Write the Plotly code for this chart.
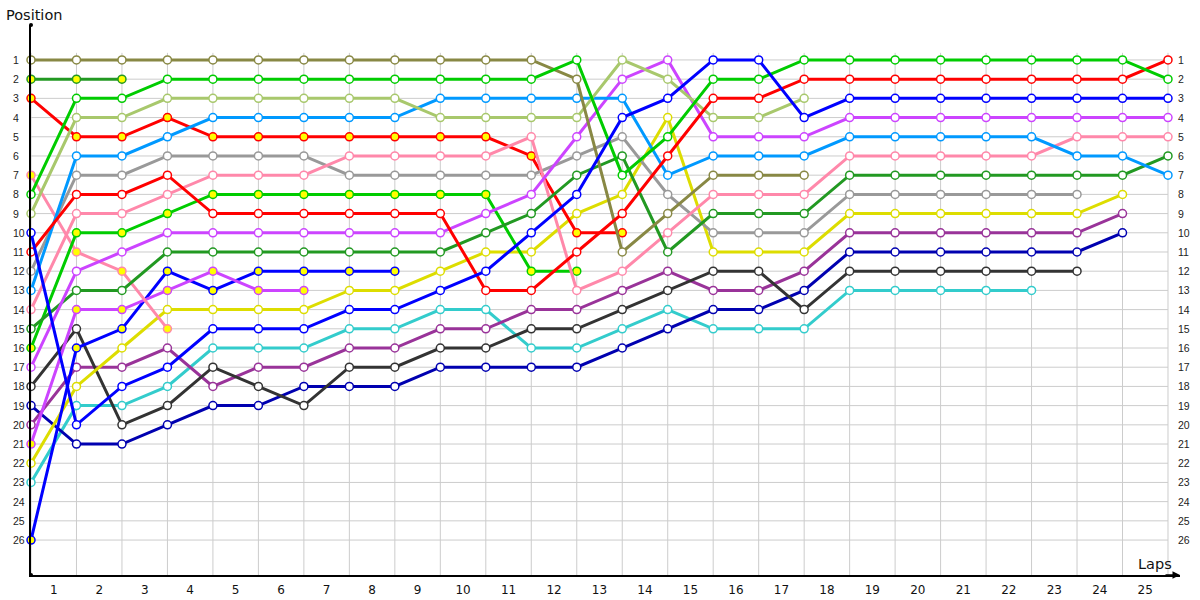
import plotly.graph_objects as go

# ---- data (lap index 0 = starting grid) ----
lap_labels = [str(i) for i in range(1, 26)]
grid_positions = list(range(1, 27))
lap_index = list(range(0, 26))

olive = [1, 1, 1, 1, 1, 1, 1, 1, 1, 1, 1, 1, 2, 11, 9, 7, 7, 7]
green = [8, 3, 3, 2, 2, 2, 2, 2, 2, 2, 2, 2, 1, 7, 5, 2, 2, 1, 1, 1, 1, 1, 1, 1, 1, 2]
red = [11, 8, 8, 7, 9, 9, 9, 9, 9, 9, 13, 13, 11, 9, 6, 3, 3, 2, 2, 2, 2, 2, 2, 2, 2, 1]
red_b = [3, 5, 5, 4, 5, 5, 5, 5, 5, 5, 5, 6, 10, 10]
light_green = [9, 4, 4, 3, 3, 3, 3, 3, 3, 4, 4, 4, 4, 1, 2, 4, 4, 3]
light_blue = [13, 6, 6, 5, 4, 4, 4, 4, 4, 3, 3, 3, 3, 3, 7, 6, 6, 6, 5, 5, 5, 5, 5, 6, 6, 7]
gray = [12, 7, 7, 6, 6, 6, 6, 7, 7, 7, 7, 7, 6, 5, 8, 10, 10, 10, 8, 8, 8, 8, 8, 8]
pink = [14, 9, 9, 8, 7, 7, 7, 6, 6, 6, 6, 5, 13, 12, 10, 8, 8, 8, 6, 6, 6, 6, 6, 5, 5, 5]
pink_b = [7, 11, 12, 15]
green_b = [16, 10, 10, 9, 8, 8, 8, 8, 8, 8, 8, 12, 12]
violet = [17, 12, 11, 10, 10, 10, 10, 10, 10, 10, 9, 8, 5, 2, 1, 5, 5, 5, 4, 4, 4, 4, 4, 4, 4, 4]
violet_b = [21, 14, 14, 13, 12, 13, 13]
dark_green = [15, 13, 13, 11, 11, 11, 11, 11, 11, 11, 10, 9, 7, 6, 11, 9, 9, 9, 7, 7, 7, 7, 7, 7, 7, 6]
dark_green_b = [2, 2, 2]
blue = [10, 20, 18, 17, 15, 15, 15, 14, 14, 13, 12, 10, 8, 4, 3, 1, 1, 4, 3, 3, 3, 3, 3, 3, 3, 3]
blue_b = [26, 16, 15, 12, 13, 12, 12, 12, 12]
dark_gray = [18, 15, 20, 19, 17, 18, 19, 17, 17, 16, 16, 15, 15, 14, 13, 12, 12, 14, 12, 12, 12, 12, 12, 12]
dark_blue = [19, 21, 21, 20, 19, 19, 18, 18, 18, 17, 17, 17, 17, 16, 15, 14, 14, 13, 11, 11, 11, 11, 11, 11, 10]
magenta = [20, 17, 17, 16, 18, 17, 17, 16, 16, 15, 15, 14, 14, 13, 12, 13, 13, 12, 10, 10, 10, 10, 10, 10, 9]
yellow = [22, 18, 16, 14, 14, 14, 14, 13, 13, 12, 11, 11, 9, 8, 4, 11, 11, 11, 9, 9, 9, 9, 9, 9, 8]
cyan = [23, 19, 19, 18, 16, 16, 16, 15, 15, 14, 14, 16, 16, 15, 14, 15, 15, 15, 13, 13, 13, 13, 13]

# (name, positions, line colour, marker fill)
series = [
    ("Cyan", cyan, "#33cccc", "white"),
    ("Dark blue", dark_blue, "#0000b0", "white"),
    ("Magenta", magenta, "#993399", "white"),
    ("Dark gray", dark_gray, "#333333", "white"),
    ("Yellow", yellow, "#dddd00", "white"),
    ("Blue B", blue_b, "#0000ff", "#ffff00"),
    ("Violet B", violet_b, "#cc44ff", "#ffff00"),
    ("Pink B", pink_b, "#ff88aa", "#ffff00"),
    ("Green B", green_b, "#00cc00", "#ffff00"),
    ("Red B", red_b, "#ff0000", "#ffff00"),
    ("Dark green B", dark_green_b, "#229922", "#ffff00"),
    ("Gray", gray, "#999999", "white"),
    ("Pink", pink, "#ff88aa", "white"),
    ("Dark green", dark_green, "#229922", "white"),
    ("Violet", violet, "#cc44ff", "white"),
    ("Light blue", light_blue, "#0099ff", "white"),
    ("Light green", light_green, "#a8c86c", "white"),
    ("Olive", olive, "#888844", "white"),
    ("Red", red, "#ff0000", "white"),
    ("Green", green, "#00cc00", "white"),
    ("Blue", blue, "#0000ff", "white"),
]

X_MAX = 25.264
Y_BOTTOM = 27.82
Y_TOP = -0.82
GRID_TOP = 0.63

fig = go.Figure()

# gridlines
shapes = []
for p in grid_positions:
    shapes.append(dict(type="line", xref="x", yref="y", x0=lap_index[0], x1=lap_index[-1], y0=p, y1=p,
                       line=dict(color="#cccccc", width=1), layer="below"))
for l in lap_index:
    shapes.append(dict(type="line", xref="x", yref="y", x0=l, x1=l, y0=GRID_TOP, y1=Y_BOTTOM,
                       line=dict(color="#cccccc", width=1), layer="below"))

for name, pos, col, fill in series:
    fig.add_trace(go.Scatter(
        x=lap_index[:len(pos)], y=pos, name=name, mode="lines+markers",
        line=dict(color=col, width=3),
        marker=dict(symbol="circle", size=8, color=fill, line=dict(color=col, width=1.5)),
        cliponaxis=False, showlegend=False,
    ))

# axis end dots
fig.add_trace(go.Scatter(x=[0, 0], y=[Y_TOP, Y_BOTTOM], mode="markers",
                         marker=dict(color="black", size=4), cliponaxis=False,
                         showlegend=False, hoverinfo="skip"))

annotations = []
lab_font = dict(family="Liberation Sans", size=10.5, color="#222222")
for p in grid_positions:
    annotations.append(dict(x=0, y=p, xref="x", yref="y", text=str(p), showarrow=False,
                            xanchor="left", xshift=-20, font=lab_font))
    annotations.append(dict(x=lap_index[-1], y=p, xref="x", yref="y", text=str(p), showarrow=False,
                            xanchor="left", xshift=8, font=lab_font))
annotations.append(dict(x=0, y=1, xref="paper", yref="paper", text="Position", showarrow=False,
                        xanchor="left", yanchor="middle", xshift=-27, yshift=10,
                        font=dict(family="DejaVu Sans", size=14.5, color="#111111")))
annotations.append(dict(x=1, y=0, xref="paper", yref="paper", text="Laps", showarrow=False,
                        xanchor="right", yanchor="middle", xshift=-6, yshift=11,
                        font=dict(family="DejaVu Sans", size=14.5, color="#111111")))
annotations.append(dict(x=1, y=0, xref="paper", yref="paper", text="", showarrow=True,
                        arrowhead=2, arrowsize=1, arrowwidth=1.5, arrowcolor="black", ax=-16, ay=0))

fig.update_layout(
    width=1200, height=600,
    margin=dict(l=31, r=20, t=25, b=25, autoexpand=False),
    paper_bgcolor="white", plot_bgcolor="white",
    shapes=shapes, annotations=annotations,
    xaxis=dict(range=[0, X_MAX], showgrid=False, zeroline=False, showline=True,
               linecolor="black", linewidth=1.5, automargin=False,
               tickvals=[i + 0.5 for i in range(len(lap_labels))], ticktext=lap_labels,
               ticks="", ticklabelstandoff=3,
               tickfont=dict(family="DejaVu Sans", size=12, color="#111111")),
    yaxis=dict(range=[Y_BOTTOM, Y_TOP], showgrid=False, zeroline=False, showline=True,
               linecolor="black", linewidth=1.5, showticklabels=False, ticks="", automargin=False),
)

fig.write_html("out.html", config={"displayModeBar": False},
               post_script="document.body.style.margin='0';document.body.style.overflow='hidden';")
